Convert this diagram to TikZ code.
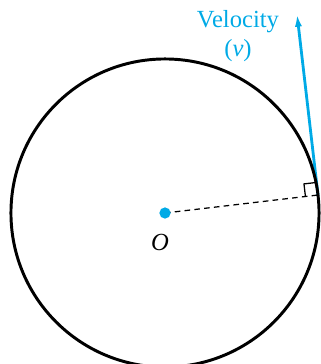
\documentclass[tikz,border=0pt]{standalone}
\usepackage{fontspec}
\setmainfont{Liberation Serif}
\usepackage{xcolor}
\usetikzlibrary{arrows.meta, calc}
\definecolor{velblue}{RGB}{0,170,230}

\begin{document}
\begin{tikzpicture}[
        x=0.025cm, y=-0.025cm,
        orbit/.style={draw=black, line width=2.1pt},
        radius line/.style={dash pattern=on 4pt off 3pt, line width=0.9pt, draw=black},
        vel arrow/.style={-{Latex[length=9pt, width=5pt]}, line width=2pt, draw=velblue},
        label/.style={font=\fontsize{17.5}{21}\selectfont, align=center}
    ]
    \useasboundingbox (0,0) rectangle (321,364);

    % Centre and point on the circle
    \coordinate (centre) at (165,213);
    \coordinate (contact) at (318,195);
    \coordinate (tip) at (297,14);

    % Velocity along the tangent
    \draw[vel arrow] (contact) -- (tip);
    \node[label, text=velblue] (vel_label) at (238,36) {Velocity\\(\textit{v})};

    % Circle
    \draw[orbit] (centre) circle (3.85cm);

    % Radius and right angle mark
    \draw[radius line] (centre) -- (contact);
    \coordinate (mark_in) at ($(contact)!9pt!(centre)$);
    \coordinate (mark_up) at ($(contact)!9pt!(tip)$);
    \coordinate (mark_corner) at ($(mark_in)+(mark_up)-(contact)$);
    \draw[line width=0.9pt] (mark_in) -- (mark_corner) -- (mark_up);

    % Centre dot and label
    \fill[velblue] (centre) circle (4pt);
    \node[label, font=\fontsize{17.5}{21}\selectfont\itshape] (centre_label) at (160,242) {O};

\end{tikzpicture}
\end{document}
